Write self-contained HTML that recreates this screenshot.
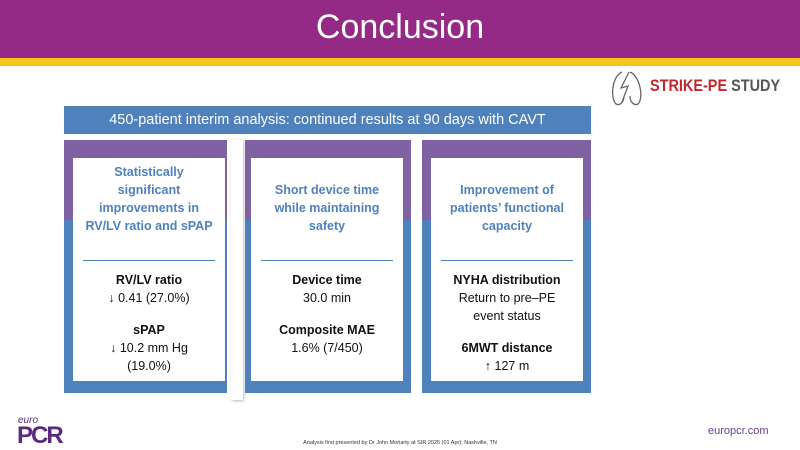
<!DOCTYPE html>
<html><head><meta charset="utf-8"><style>
body{margin:0;width:800px;height:450px;position:relative;overflow:hidden;background:#fff;font-family:"Liberation Sans",sans-serif}
.a{position:absolute}
.card{position:absolute;top:140px;height:253px;background:linear-gradient(#7e62a2 0,#7e62a2 80px,#4f81bd 80px)}
.in{position:absolute;background:#fff;top:18px;height:223px;text-align:center}
.h{color:#4f81bd;font-weight:bold;font-size:12.5px;line-height:18px;position:absolute;left:0;right:0;white-space:nowrap}
.ln{position:absolute;top:102px;left:10px;right:10px;border-top:1.5px solid #4f81bd}
.b{position:absolute;left:0;right:0;top:113px;font-size:12.5px;line-height:18px;color:#111;white-space:nowrap}
.b b{display:block}
</style></head><body>
<div class="a" style="left:0;top:0;width:800px;height:58px;background:#952a86"></div>
<div class="a" style="left:0;top:58px;width:800px;height:8px;background:#f5c518"></div>
<div class="a" style="left:0;top:8px;width:800px;text-align:center;color:#fff;font-size:34px">Conclusion</div>
<svg class="a" style="left:608px;top:68px" width="40" height="40" viewBox="0 0 40 40"><path d="M14 4 C4 8 2 30 8 36 C12 38 16 34 16 28 M22 4 C32 8 36 30 30 36 C26 38 22 34 22 28 M21 4 L13 20 L20 18 L14 34" fill="none" stroke="#666" stroke-width="1.3"/></svg>
<div class="a" style="left:650px;top:76px;font-size:17px;font-weight:bold;transform:scaleX(0.85);transform-origin:left;white-space:nowrap"><span style="color:#c0282d">STRIKE-PE</span> <span style="color:#555">STUDY</span></div>
<div class="a" style="left:64px;top:106px;width:527px;height:28px;background:#4f81bd;color:#fff;text-align:center;font-size:14.5px;line-height:28px">450-patient interim analysis: continued results at 90 days with CAVT</div>
<div class="a" style="left:231px;top:140px;width:12px;height:260px;background:#fff;box-shadow:1px 1px 3px #bbb"></div>
<div class="card" style="left:64px;width:163px"><div class="in" style="left:9px;width:152px">
<div class="h" style="top:5px">Statistically<br>significant<br>improvements in<br>RV/LV ratio and sPAP</div><div class="ln"></div>
<div class="b"><b>RV/LV ratio</b>↓ 0.41 (27.0%)<b style="margin-top:14px">sPAP</b>↓ 10.2 mm Hg<br>(19.0%)</div></div></div>
<div class="card" style="left:245px;width:166px"><div class="in" style="left:6px;width:152px">
<div class="h" style="top:23px">Short device time<br>while maintaining<br>safety</div><div class="ln"></div>
<div class="b"><b>Device time</b>30.0 min<b style="margin-top:14px">Composite MAE</b>1.6% (7/450)</div></div></div>
<div class="card" style="left:422px;width:169px"><div class="in" style="left:9px;width:152px">
<div class="h" style="top:23px">Improvement of<br>patients’ functional<br>capacity</div><div class="ln"></div>
<div class="b"><b>NYHA distribution</b>Return to pre–PE<br>event status<b style="margin-top:14px">6MWT distance</b>↑ 127 m</div></div></div>
<div class="a" style="left:18px;top:415px;color:#5a2a82;font-size:10px;font-style:italic">euro</div>
<div class="a" style="left:17px;top:422px;color:#5a2a82;font-size:24px;font-weight:bold;letter-spacing:-2px">PCR</div>
<div class="a" style="left:0;top:440px;width:800px;text-align:center;font-size:5.5px;color:#333">Analysis first presented by Dr John Moriarty at SIR 2025 (01 Apr); Nashville, TN</div>
<div class="a" style="left:708px;top:425px;color:#6a3d8e;font-size:11px">europcr.com</div>
</body></html>
